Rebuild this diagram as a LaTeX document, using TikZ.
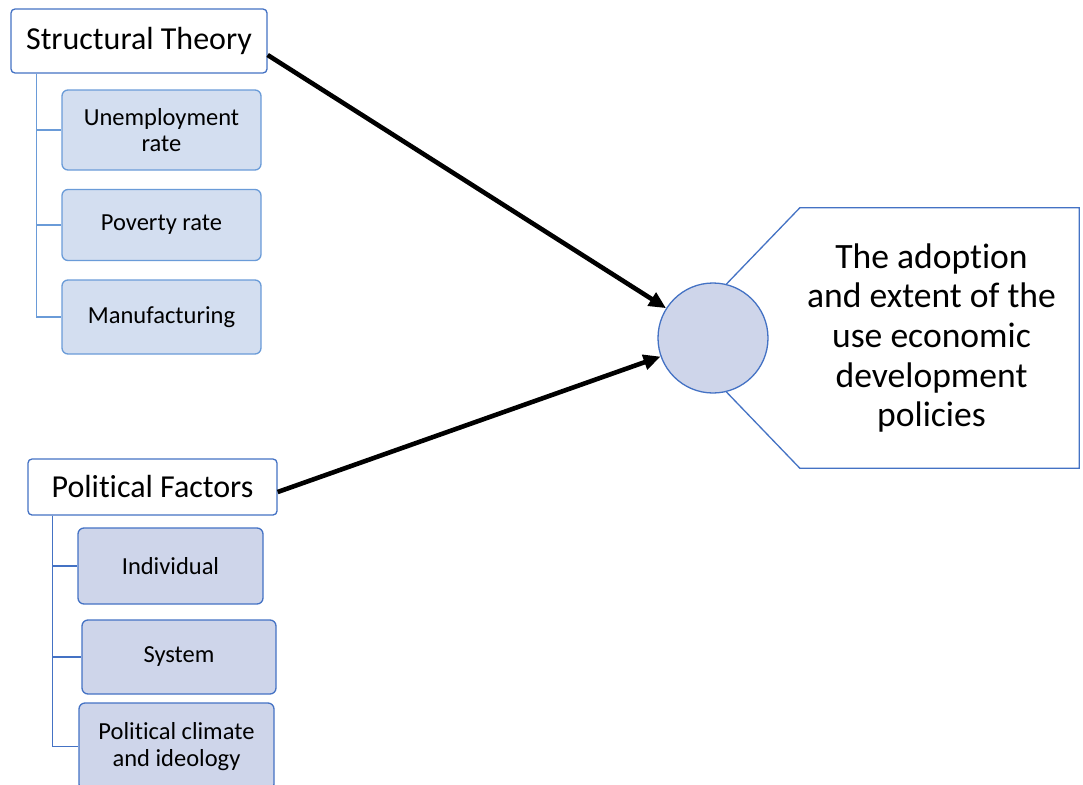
\documentclass[tikz,border=0pt]{standalone}
\usepackage{fontspec}
\setmainfont{Carlito}[RawFeature={-liga;-clig;-calt;-dlig}]
\usepackage{tikz}
\usetikzlibrary{arrows.meta,backgrounds}
\definecolor{boxline}{HTML}{4472C4}
\definecolor{leafline}{HTML}{6A9BD8}
\definecolor{leaffill}{HTML}{D3DEF0}
\definecolor{leaffilltwo}{HTML}{CED5EA}
\tikzstyle{factor} = [
  draw=boxline,
  line width=1.3pt,
  fill=white,
  rounded corners=4pt,
  inner sep=0pt,
  align=center,
  font=\fontsize{32}{38}\selectfont,
]
\tikzstyle{leaf} = [
  draw=leafline,
  line width=1.3pt,
  fill=leaffill,
  rounded corners=6pt,
  inner sep=0pt,
  align=center,
  font=\fontsize{24.5}{26.5}\selectfont,
]
\tikzstyle{tree} = [
  draw=boxline,
  line width=1.6pt,
]
\tikzstyle{effect} = [
  ->,
  >={Triangle[length=17pt,width=15pt]},
  line width=4.6pt,
  black,
]

\begin{document}
\begin{tikzpicture}[
    x=1pt,
    y=-1pt,
  ]
  \useasboundingbox (0,0) rectangle (1083,784);
  % structural branch
  \node[
    factor,
    minimum width=256,
    minimum height=64,
  ](st) at (139,41) {Structural Theory};
  \node[
    leaf,
    minimum width=199,
    minimum height=80,
  ](unemp) at (161.5,130) {Unemployment\\rate};
  \node[
    leaf,
    minimum width=199,
    minimum height=71,
  ](pov) at (161.5,225) {Poverty rate};
  \node[
    leaf,
    minimum width=199,
    minimum height=74,
  ](manu) at (161.5,317) {Manufacturing};
  \draw[tree, draw=leafline] ([xshift=26]st.south west) |- (unemp.west);
  \draw[tree, draw=leafline] ([xshift=26]st.south west) |- (pov.west);
  \draw[tree, draw=leafline] ([xshift=26]st.south west) |- (manu.west);
  % political branch
  \node[
    factor,
    minimum width=249,
    minimum height=56,
  ](pf) at (152.5,487) {Political Factors};
  \node[
    leaf,
    draw=boxline,
    fill=leaffilltwo,
    minimum width=185,
    minimum height=76,
  ](indiv) at (170.5,566) {Individual};
  \node[
    leaf,
    draw=boxline,
    fill=leaffilltwo,
    minimum width=194,
    minimum height=74,
  ](sys) at (179,657) {System};
  \node[
    leaf,
    draw=boxline,
    fill=leaffilltwo,
    minimum width=195,
    minimum height=87,
  ](clim) at (176.5,746.5) {Political climate\\and ideology};
  \draw[tree] ([xshift=25]pf.south west) |- (indiv.west);
  \draw[tree] ([xshift=25]pf.south west) |- (sys.west);
  \draw[tree] ([xshift=25]pf.south west) |- (clim.west);
  % outcome
  \node[
    circle,
    draw=boxline,
    line width=1.3pt,
    fill=leaffilltwo,
    minimum size=110,
    inner sep=0pt,
  ](hub) at (713,338) {};
  \node[
    minimum width=279,
    minimum height=260,
    inner sep=0pt,
  ](out) at (939.5,338) {};
  \node[
    align=center,
    font=\fontsize{35.6}{39.6}\selectfont,
  ](outtext) at ([xshift=-8]out.center) {The adoption\\and extent of the\\use economic\\development\\policies};
  \begin{pgfonlayer}{background}
    \draw[draw=boxline, line width=1.3pt, fill=white]
      (hub.76) -- (out.north west) -- (out.north east)
      -- (out.south east) -- (out.south west) -- (hub.-76);
  \end{pgfonlayer}
  \draw[effect] ([yshift=-14]st.east) -- (hub);
  \draw[effect] ([yshift=-5]pf.east) -- (hub);
\end{tikzpicture}
\end{document}
